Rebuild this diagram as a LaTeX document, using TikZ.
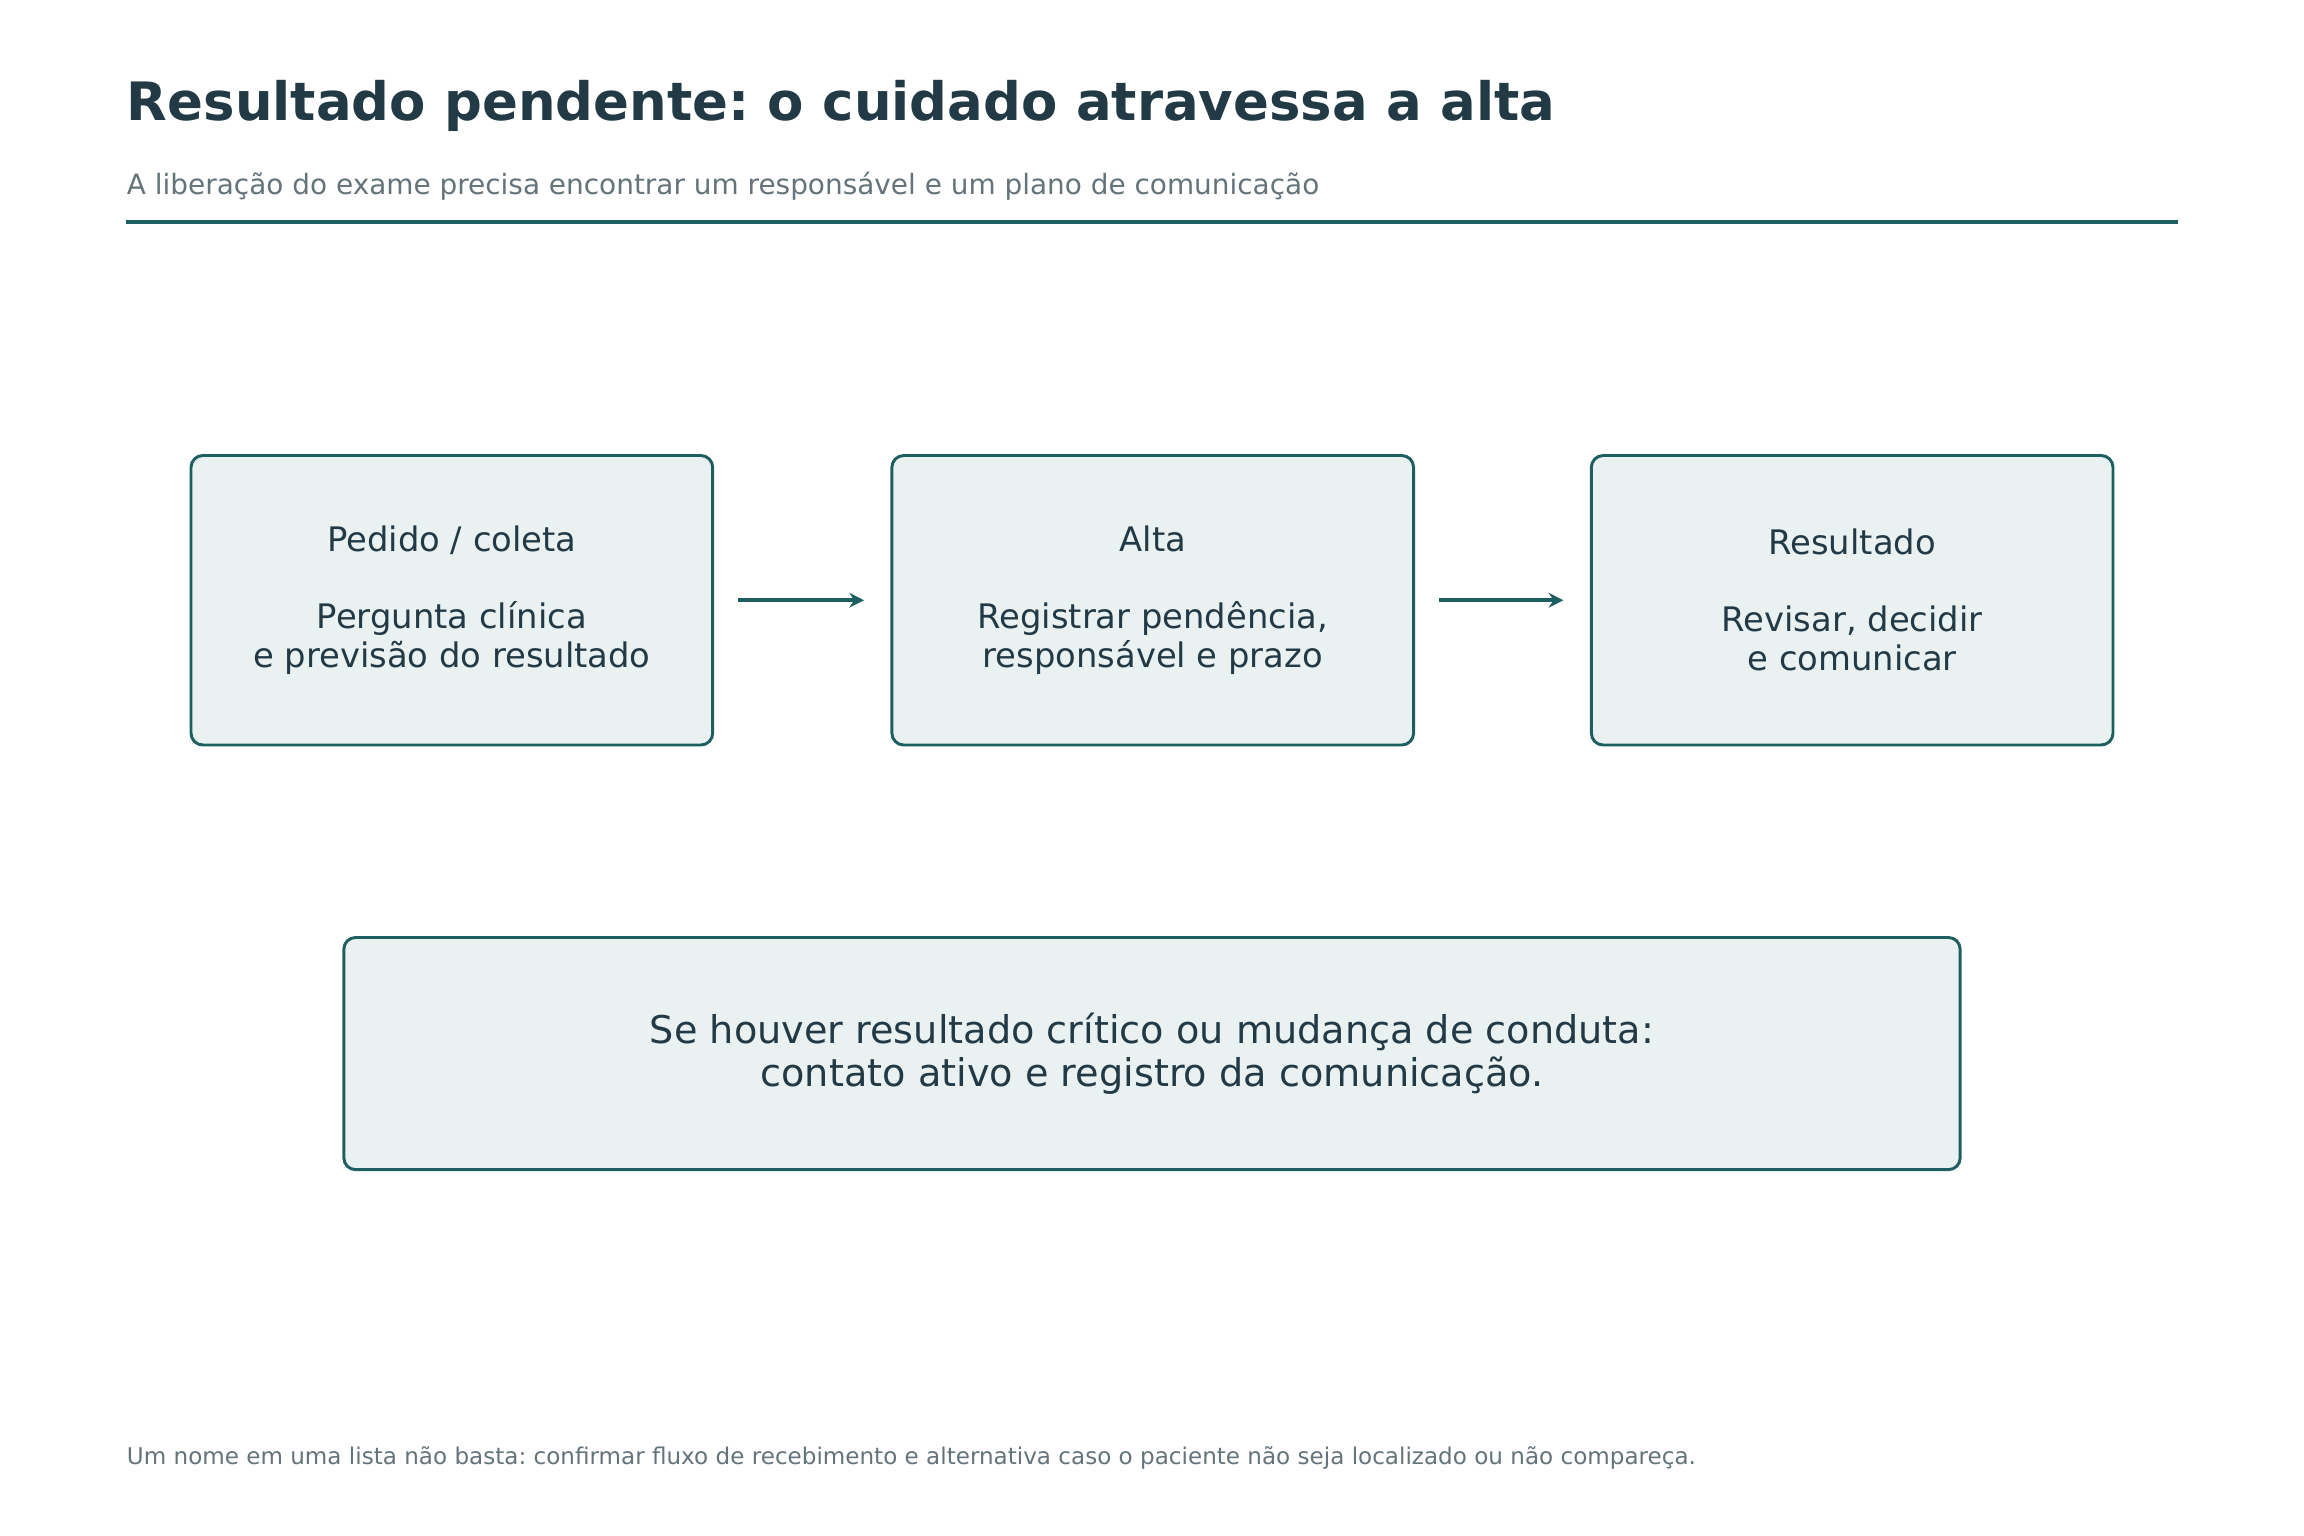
\documentclass[tikz,border=0pt]{standalone}
\usepackage{fontspec}
\setmainfont{DejaVu Sans}
\frenchspacing
\usetikzlibrary{arrows.meta}
\definecolor{ink}{HTML}{213A45}
\definecolor{teal}{HTML}{1D5E60}
\definecolor{boxfill}{HTML}{EAF2F1}
\definecolor{muted}{HTML}{65737A}
\begin{document}
\frenchspacing
\begin{tikzpicture}[x=0.5pt,y=-0.5pt,
  box/.style={draw=teal,fill=boxfill,line width=1pt,rounded corners=4pt,text=ink,align=center,inner sep=0pt},
  lbl/.style={anchor=west,inner sep=0pt},
  arr/.style={draw=teal,line width=1.4pt,-{Stealth[length=5pt,width=5pt]}}]
\useasboundingbox (0,0) rectangle (1568,1045);
\fill[white] (0,0) rectangle (1568,1045);
\node[lbl,text=ink,font=\fontsize{18}{21}\selectfont\bfseries] (title) at (86,72) {Resultado pendente: o cuidado atravessa a alta};
\node[lbl,text=muted,font=\fontsize{9.5}{11}\selectfont] (sub) at (86,127) {A liberação do exame precisa encontrar um responsável e um plano de comunicação};
\draw[teal,line width=1.3pt] (86,151) coordinate (l1) -- (1482,151) coordinate (l2);
\node[box,minimum width=177.5pt,minimum height=98.5pt,font=\fontsize{11.5}{13.2}\selectfont] (a) at (307.5,408.5) {Pedido / coleta\\[13pt]Pergunta clínica\\e previsão do resultado};
\node[box,minimum width=177.5pt,minimum height=98.5pt,font=\fontsize{11.5}{13.2}\selectfont] (b) at (784.5,408.5) {Alta\\[13pt]Registrar pendência,\\responsável e prazo};
\node[box,minimum width=177.5pt,minimum height=98.5pt,font=\fontsize{11.5}{13.2}\selectfont] (c) at (1260.5,408.5) {Resultado\\[13pt]Revisar, decidir\\e comunicar};
\draw[arr] ([xshift=8pt]a.east) -- ([xshift=-9pt]b.west);
\draw[arr] ([xshift=8pt]b.east) -- ([xshift=-9pt]c.west);
\node[box,minimum width=550pt,minimum height=79pt,font=\fontsize{13}{14.5}\selectfont] (d) at (784,717) {Se houver resultado crítico ou mudança de conduta:\\contato ativo e registro da comunicação.};
\node[lbl,text=muted,font=\fontsize{7.85}{9}\selectfont] (foot) at (86,992) {Um nome em uma lista não basta: confirmar fluxo de recebimento e alternativa caso o paciente não seja localizado ou não compareça.};
\end{tikzpicture}
\end{document}
